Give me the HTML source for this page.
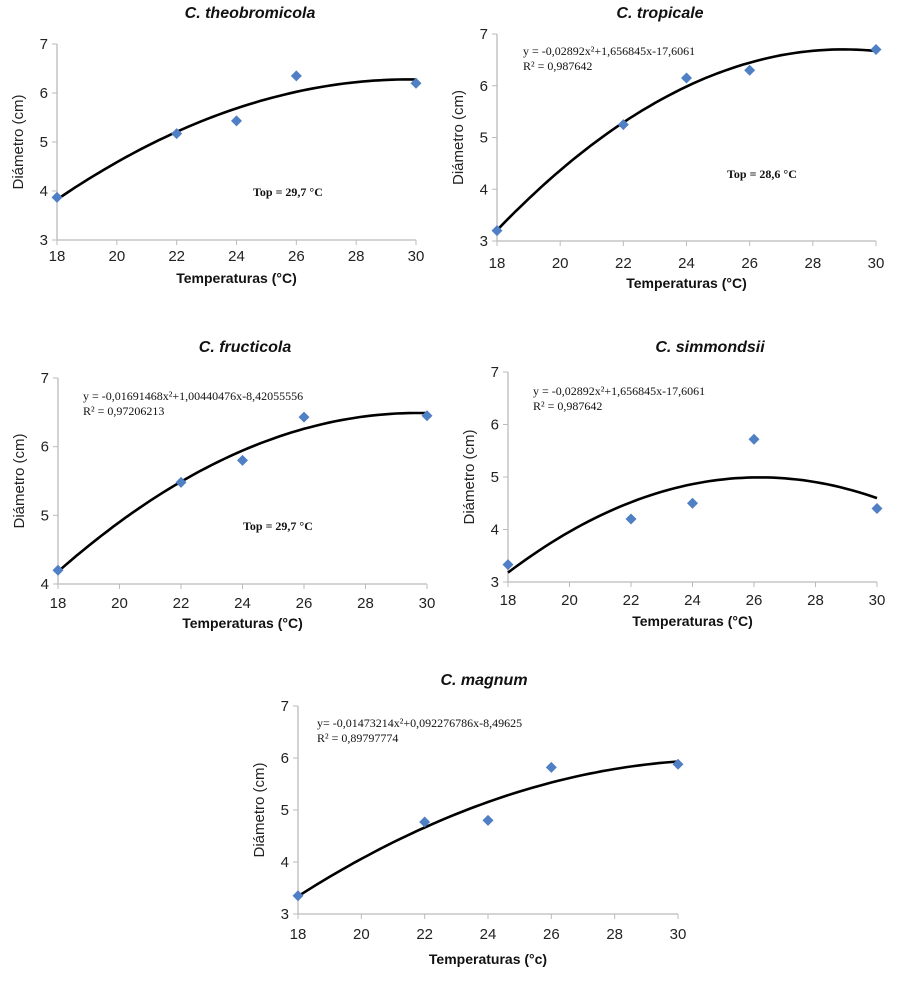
<!DOCTYPE html>
<html><head><meta charset="utf-8"><style>
body{margin:0;background:#fff;width:900px;height:983px;overflow:hidden}
svg{display:block}
.tk{font:15px "Liberation Sans",sans-serif;fill:#222}
.ttl{font:italic bold 16px "Liberation Sans",sans-serif;fill:#111}
.lab{font:bold 14px "Liberation Sans",sans-serif;fill:#111}
.ylab{font:15px "Liberation Sans",sans-serif;fill:#222}
.eq{font:12px "Liberation Serif",serif;fill:#111}
.top{font:bold 12px "Liberation Serif",serif;fill:#111}
</style></head><body>
<svg id="s" width="900" height="983"></svg>
<script>
const temps=[18,22,24,26,30];
const xTicks=[18,20,22,24,26,28,30];
const dTheo=[3.87,5.17,5.43,6.35,6.2];
const dTrop=[3.2,5.25,6.15,6.3,6.7];
const dFruc=[4.2,5.48,5.8,6.43,6.45];
const dSimm=[3.33,4.2,4.5,5.72,4.4];
const dMagn=[3.35,4.77,4.8,5.82,5.88];
const titles=["C. theobromicola","C. tropicale","C. fructicola","C. simmondsii","C. magnum"];
const panels=[
 {d:dTheo,x0:57,x1:416,yT:44,yB:240,ymin:3,ymax:7,tx:250,ty:18,tkd:21,xl:283,xlab:"Temperaturas (°C)",top:["Top = 29,7 °C",253,196]},
 {d:dTrop,x0:497,x1:876,yT:34,yB:241,ymin:3,ymax:7,tx:660,ty:18,tkd:27,xl:288,xlab:"Temperaturas (°C)",eq:["y = -0,02892x²+1,656845x-17,6061","R² = 0,987642",523,55],top:["Top = 28,6  °C",727,178]},
 {d:dFruc,x0:58,x1:427,yT:378,yB:584,ymin:4,ymax:7,tx:245,ty:352,tkd:24,xl:628,xlab:"Temperaturas (°C)",eq:["y = -0,01691468x²+1,00440476x-8,42055556","R² = 0,97206213",83,400],top:["Top = 29,7 °C",243,530]},
 {d:dSimm,x0:508,x1:877,yT:372,yB:582,ymin:3,ymax:7,tx:710,ty:352,tkd:23,xl:626,xlab:"Temperaturas (°C)",eq:["y = -0,02892x²+1,656845x-17,6061","R² = 0,987642",533,395]},
 {d:dMagn,x0:298,x1:678,yT:706,yB:914,ymin:3,ymax:7,tx:484,ty:685,tkd:25,xl:964,xlab:"Temperaturas (°c)",eq:["y= -0,01473214x²+0,092276786x-8,49625","R² = 0,89797774",317,727]}
];
const NS="http://www.w3.org/2000/svg",S=document.getElementById('s');
function mk(t,a,txt,p){const e=document.createElementNS(NS,t);for(const k in a)e.setAttribute(k,a[k]);if(txt!=null)e.textContent=txt;(p||S).appendChild(e);return e;}
function fit(xs,ys){let n=xs.length,s=[0,0,0,0,0],t=[0,0,0];for(let i=0;i<n;i++){const x=xs[i],y=ys[i];for(let k=0;k<5;k++)s[k]+=Math.pow(x,k);for(let k=0;k<3;k++)t[k]+=y*Math.pow(x,k);}
 const M=[[s[0],s[1],s[2],t[0]],[s[1],s[2],s[3],t[1]],[s[2],s[3],s[4],t[2]]];
 for(let i=0;i<3;i++){for(let j=i+1;j<3;j++){const f=M[j][i]/M[i][i];for(let k=i;k<4;k++)M[j][k]-=f*M[i][k];}}
 const c=[0,0,0];for(let i=2;i>=0;i--){let v=M[i][3];for(let k=i+1;k<3;k++)v-=M[i][k]*c[k];c[i]=v/M[i][i];}return c;}
panels.forEach((p,i)=>{
 const g=mk('g',{});
 
 
 const X=v=>p.x0+(v-18)/(12)*(p.x1-p.x0);
 const Y=v=>p.yB-(v-p.ymin)/(p.ymax-p.ymin)*(p.yB-p.yT);
 let e=mk('text',{class:'ttl',x:p.tx,y:p.ty,'text-anchor':'middle'},titles[i],g);
 
 e=mk('line',{x1:p.x0,y1:p.yT,x2:p.x0,y2:p.yB,stroke:'#bbb','stroke-width':1.3},null,g);
 
 e=mk('line',{x1:p.x0,y1:p.yB,x2:p.x1,y2:p.yB,stroke:'#bbb','stroke-width':1.3},null,g);
 
 for(let v=p.ymin;v<=p.ymax;v++){mk('line',{x1:p.x0-5,x2:p.x0,y1:Y(v),y2:Y(v),stroke:'#bbb'},null,g);
  e=mk('text',{class:'tk',x:p.x0-9,y:Y(v)+5,'text-anchor':'end'},v,g);
  }
 xTicks.forEach(v=>{mk('line',{x1:X(v),x2:X(v),y1:p.yB,y2:p.yB+5,stroke:'#bbb'},null,g);
  e=mk('text',{class:'tk',x:X(v),y:p.yB+p.tkd,'text-anchor':'middle'},v,g);
  });
 e=mk('text',{class:'lab',x:(p.x0+p.x1)/2,y:p.xl,'text-anchor':'middle'},p.xlab,g);
 
 const ym=(p.yT+p.yB)/2;
 e=mk('text',{class:'ylab',x:p.x0-34,y:ym,'text-anchor':'middle',transform:`rotate(-90 ${p.x0-34} ${ym})`},'Diámetro (cm)',g);
 
 const c=fit(temps,p.d);let dd='';
 for(let x=18;x<=30.001;x+=0.2){const y=c[0]+c[1]*x+c[2]*x*x;dd+=(dd?'L':'M')+X(x).toFixed(1)+','+Y(y).toFixed(1);}
 e=mk('path',{d:dd,fill:'none',stroke:'#000','stroke-width':2.6},null,g);
 
 temps.forEach((t,k)=>{const cx=X(t),cy=Y(p.d[k]);
  e=mk('polygon',{points:`${cx},${cy-5.5} ${cx+5.5},${cy} ${cx},${cy+5.5} ${cx-5.5},${cy}`,fill:'#4f7fc4'},null,g);
  });
 if(p.eq){e=mk('text',{class:'eq',x:p.eq[2],y:p.eq[3]},p.eq[0],g);
  
  e=mk('text',{class:'eq',x:p.eq[2],y:p.eq[3]+15},p.eq[1],g);
  }
 if(p.top){e=mk('text',{class:'top',x:p.top[1],y:p.top[2]},p.top[0],g);
  }
});
</script>
</body></html>
